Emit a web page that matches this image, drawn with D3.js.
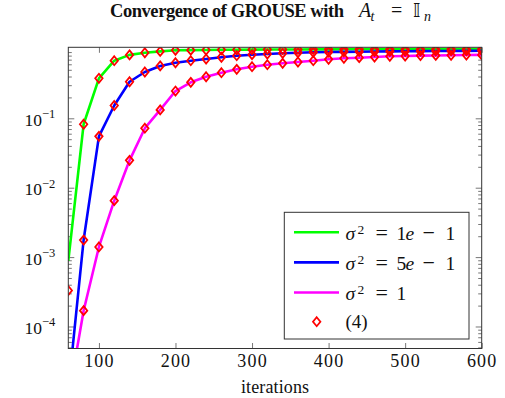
<!DOCTYPE html>
<html>
<head>
<meta charset="utf-8">
<script src="https://cdn.jsdelivr.net/npm/d3@7"></script>
<style>
  body { margin: 0; background: #fff; }
  text { font-family: "Liberation Serif", "DejaVu Serif", serif; fill: #111; }
</style>
</head>
<body>
<svg id="chart" width="505" height="398"></svg>
<script>
// iterations at which the errors were recorded
const iters = [60, 80, 100, 120, 140, 160, 180, 200, 220, 240, 260, 280, 300, 320,
               340, 360, 380, 400, 420, 440, 460, 480, 500, 520, 540, 560, 580, 600];

// simulated curves, one per noise level
const sig01 = [8.8e-4, 0.082, 0.377, 0.676, 0.82, 0.88, 0.92, 0.955, 0.96, 0.965, 0.97, 0.973, 0.976, 0.978,
               0.98, 0.982, 0.983, 0.985, 0.986, 0.987, 0.988, 0.989, 0.99, 0.991, 0.992, 0.993, 0.994, 0.995];
const sig05 = [1.2e-5, 1.76e-3, 0.055, 0.153, 0.336, 0.465, 0.568, 0.632, 0.676, 0.715, 0.757, 0.798, 0.825, 0.845,
               0.865, 0.882, 0.893, 0.90, 0.906, 0.911, 0.916, 0.92, 0.924, 0.928, 0.931, 0.934, 0.937, 0.94];
const sig1  = [9e-6, 1.69e-4, 1.40e-3, 6.5e-3, 0.0248, 0.072, 0.132, 0.247, 0.330, 0.397, 0.454, 0.508, 0.554, 0.592,
               0.620, 0.648, 0.676, 0.708, 0.732, 0.747, 0.764, 0.782, 0.79, 0.80, 0.805, 0.81, 0.815, 0.82];

// prediction of eq. (4), drawn as diamonds
const eq01 = [3.3e-4, 0.082, 0.377, 0.676, 0.82, 0.88, 0.92, 0.955, 0.96, 0.965, 0.97, 0.973, 0.976, 0.978,
              0.98, 0.982, 0.983, 0.985, 0.986, 0.987, 0.988, 0.989, 0.99, 0.991, 0.992, 0.993, 0.994, 0.995];
const eq05 = [1.2e-5, 1.76e-3, 0.055, 0.153, 0.336, 0.465, 0.568, 0.632, 0.676, 0.715, 0.757, 0.798, 0.825, 0.845,
              0.865, 0.882, 0.893, 0.90, 0.906, 0.911, 0.916, 0.92, 0.924, 0.928, 0.931, 0.934, 0.937, 0.94];
const eq1  = [9e-6, 1.69e-4, 1.40e-3, 6.5e-3, 0.0248, 0.072, 0.132, 0.247, 0.330, 0.397, 0.454, 0.508, 0.554, 0.592,
              0.620, 0.648, 0.676, 0.708, 0.732, 0.747, 0.764, 0.782, 0.79, 0.80, 0.805, 0.81, 0.815, 0.82];

const xTicks = [100, 200, 300, 400, 500, 600];
const yTicks = [1e-4, 1e-3, 1e-2, 1e-1];
const yTickExp = ["−4", "−3", "−2", "−1"];

const pLeft = 68.3, pRight = 481.7, pTop = 47.3, pBottom = 348.5;

var svg = d3.select('#chart');

var x = d3.scaleLinear().domain([60, 600]).range([pLeft, pRight]);
var y = d3.scaleLog().domain([Math.pow(10, -4.317), Math.pow(10, 0.023)]).range([pBottom, pTop]);

var minor = [];
for (var e = -5; e <= 0; e++) {
    for (var m = 2; m <= 9; m++) {
        var v = m * Math.pow(10, e);
        if (v > y.domain()[0] && v < y.domain()[1]) minor.push(v);
    }
}

var tickCol = "#777";

// ticks, drawn inward on all four sides
function ticksOnly(g) {
    g.attr("font-family", null);
    g.select(".domain").remove();
    g.selectAll("line").attr("stroke", tickCol);
}

svg.append("g").attr("transform", `translate(0,${pBottom})`)
    .call(d3.axisBottom(x).tickValues(xTicks).tickSizeInner(-5.5).tickSizeOuter(0).tickPadding(6))
    .call(ticksOnly)
    .selectAll("text").style("font-size", "18px").style("letter-spacing", "1.2px").attr("fill", "#111");

svg.append("g").attr("transform", `translate(0,${pTop})`)
    .call(d3.axisTop(x).tickValues(xTicks).tickSize(-5.5).tickFormat(""))
    .call(ticksOnly);

svg.append("g").attr("transform", `translate(${pLeft},0)`)
    .call(d3.axisLeft(y).tickValues(yTicks).tickSize(-6).tickFormat(""))
    .call(ticksOnly);
svg.append("g").attr("transform", `translate(${pLeft},0)`)
    .call(d3.axisLeft(y).tickValues(minor).tickSize(-3.5).tickFormat(""))
    .call(ticksOnly);
svg.append("g").attr("transform", `translate(${pRight},0)`)
    .call(d3.axisRight(y).tickValues(yTicks).tickSize(-6).tickFormat(""))
    .call(ticksOnly);
svg.append("g").attr("transform", `translate(${pRight},0)`)
    .call(d3.axisRight(y).tickValues(minor).tickSize(-3.5).tickFormat(""))
    .call(ticksOnly);

// y labels as 10^k
var yl = svg.append("g").selectAll("text").data(yTicks).enter().append("text")
    .attr("x", pLeft - 13)
    .attr("y", d => y(d) + 7.5)
    .attr("text-anchor", "end")
    .style("font-size", "17.5px");
yl.append("tspan").text("10");
yl.append("tspan").attr("dy", -7.5).style("font-size", "12.5px").text((d, i) => yTickExp[i]);

// curves
svg.append("clipPath").attr("id", "plotclip").append("rect")
    .attr("x", pLeft).attr("y", pTop).attr("width", pRight - pLeft).attr("height", pBottom - pTop);

var plot = svg.append("g").attr("clip-path", "url(#plotclip)");

var line = d3.line().x((d, i) => x(iters[i])).y(d => y(d));

var curves = [
    { vals: sig01, color: "#00ff00" },
    { vals: sig05, color: "#0000ff" },
    { vals: sig1,  color: "#ff00ff" }
];
curves.forEach(function (c) {
    plot.append("path").datum(c.vals)
        .attr("d", line)
        .attr("fill", "none")
        .attr("stroke", c.color)
        .attr("stroke-width", 2.6)
        .attr("stroke-linejoin", "round");
});

function diamond(sel) {
    sel.attr("d", "M0,-4.5 L3.7,0 L0,4.5 L-3.7,0 Z")
        .attr("fill", "none")
        .attr("stroke", "#ff0000")
        .attr("stroke-width", 1.8)
        .attr("stroke-linejoin", "miter");
}

[eq01, eq05, eq1].forEach(function (vals) {
    var pts = vals.map((v, i) => ({ x: iters[i], y: v }))
        .filter(p => p.y >= y.domain()[0] * 0.8);
    plot.selectAll(null).data(pts).enter().append("path")
        .attr("transform", d => `translate(${x(d.x)},${y(d.y)})`)
        .call(diamond);
});

// frame
svg.append("rect")
    .attr("x", pLeft).attr("y", pTop).attr("width", pRight - pLeft).attr("height", pBottom - pTop)
    .attr("fill", "none").attr("stroke", "#333").attr("stroke-width", 1);

// title, set piece by piece like TeX math
var tg = svg.append("g").style("font-size", "18.5px");
tg.append("text").attr("x", 110).attr("y", 17)
    .attr("textLength", 234).attr("lengthAdjust", "spacing")
    .style("font-weight", "bold").text("Convergence of GROUSE with");
tg.append("text").attr("x", 359).attr("y", 17).style("font-style", "italic").style("font-size", "20px").text("A");
tg.append("text").attr("x", 370.5).attr("y", 20.5).style("font-style", "italic").style("font-size", "14px").text("t");
tg.append("text").attr("x", 391).attr("y", 17).style("font-size", "20px").text("=");
tg.append("text").attr("x", 413).attr("y", 17).style("font-family", "DejaVu Sans").style("font-size", "19px").text("𝕀");
tg.append("text").attr("x", 424).attr("y", 20.5).style("font-style", "italic").style("font-size", "14px").text("n");

// x label
svg.append("text")
    .attr("x", (pLeft + pRight) / 2).attr("y", 392.5)
    .attr("text-anchor", "middle")
    .attr("textLength", 68).attr("lengthAdjust", "spacing")
    .style("font-size", "18px")
    .text("iterations");

// legend
var lg = svg.append("g");
lg.append("rect")
    .attr("x", 284.3).attr("y", 212.3).attr("width", 184.7).attr("height", 126.7)
    .attr("fill", "#fff").attr("stroke", "#333").attr("stroke-width", 1);

var legendItems = [
    { color: "#00ff00", coef: "1", tail: true },
    { color: "#0000ff", coef: "5", tail: true },
    { color: "#ff00ff", coef: "1", tail: false }
];
legendItems.forEach(function (it, i) {
    var ly = 232.3 + i * 30.1;
    var by = ly + 7.3;
    lg.append("line").attr("x1", 294).attr("x2", 339).attr("y1", ly).attr("y2", ly)
        .attr("stroke", it.color).attr("stroke-width", 2.6);
    var t = lg.append("g").style("font-size", "19.5px");
    t.append("text").attr("x", 345.5).attr("y", by).style("font-style", "italic").text("σ");
    t.append("text").attr("x", 357.5).attr("y", by - 5.5).style("font-size", "13.5px").text("2");
    t.append("text").attr("x", 375.5).attr("y", by).style("font-size", "22px").text("=");
    t.append("text").attr("x", 396.5).attr("y", by).text(it.coef);
    if (it.tail) {
        t.append("text").attr("x", 405.5).attr("y", by).style("font-style", "italic").text("e");
        t.append("text").attr("x", 422.5).attr("y", by).style("font-size", "22px").text("−");
        t.append("text").attr("x", 445.5).attr("y", by).text("1");
    }
});
lg.append("path").attr("transform", "translate(316.7,321.7)").call(diamond);
lg.append("text").attr("x", 345.5).attr("y", 327.5).style("font-size", "19px").text("(4)");
</script>
</body>
</html>
